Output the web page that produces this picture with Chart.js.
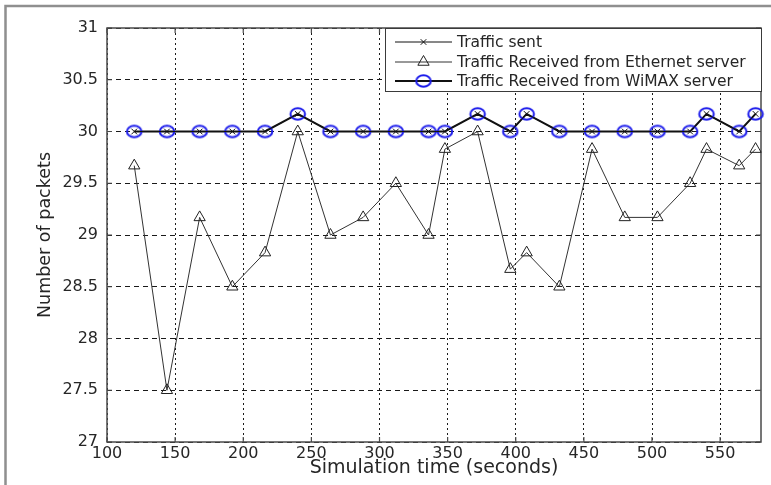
<!DOCTYPE html>
<html>
<head>
<meta charset="utf-8">
<script src="https://cdn.jsdelivr.net/npm/chart.js@4/dist/chart.umd.min.js"></script>
<style>
html,body{margin:0;padding:0;background:#fff;}
canvas{display:block;}
</style>
</head>
<body>
<canvas id="c" width="771" height="485"></canvas>
<script>
// ---- data ----
const timeSec = [120,144,168,192,216,240,264,288,312,336,348,372,396,408,432,456,480,504,528,540,564,576];
const trafficSent = [30,30,30,30,30,30.17,30,30,30,30,30,30.17,30,30.17,30,30,30,30,30,30.17,30,30.17];
const ethernetRecv = [29.67,27.5,29.17,28.5,28.83,30,29,29.17,29.5,29,29.83,30,28.67,28.83,28.5,29.83,29.17,29.17,29.5,29.83,29.67,29.83];
const wimaxRecv = [30,30,30,30,30,30.17,30,30,30,30,30,30.17,30,30.17,30,30,30,30,30,30.17,30,30.17];
const seriesLabels = ['Traffic sent','Traffic Received from Ethernet server','Traffic Received from WiMAX server'];
const xTicks = [100,150,200,250,300,350,400,450,500,550];
const yTicks = [27,27.5,28,28.5,29,29.5,30,30.5,31];
const xRange = [100,580];
const yRange = [27,31];
const xTitle = 'Simulation time (seconds)';
const yTitle = 'Number of packets';

const FONT = 'DejaVu Sans';
const TXT = '#262626';

function ellipseMarker(){
  const c = document.createElement('canvas');
  c.width = 20; c.height = 16;
  const g = c.getContext('2d');
  g.strokeStyle = 'rgb(28,28,235)';
  g.lineWidth = 2;
  g.beginPath();
  g.ellipse(10, 8, 7.3, 5.7, 0, 0, Math.PI*2);
  g.stroke();
  return c;
}
const wimaxMarker = ellipseMarker();

const toPts = arr => arr.map((v,i)=>({x:timeSec[i], y:v}));

const decor = {
  id: 'decor',
  beforeDraw(chart){
    const ctx = chart.ctx;
    ctx.save();
    ctx.fillStyle = '#fff';
    ctx.fillRect(0,0,chart.width,chart.height);
    ctx.strokeStyle = '#8f8f8f';
    ctx.lineWidth = 2.5;
    ctx.beginPath();
    ctx.moveTo(5.5, chart.height);
    ctx.lineTo(5.5, 6);
    ctx.lineTo(chart.width, 6);
    ctx.stroke();
    ctx.restore();
  },
  beforeDatasetsDraw(chart){
    const ctx = chart.ctx, a = chart.chartArea;
    const xs = chart.scales.x, ys = chart.scales.y;
    ctx.save();
    ctx.strokeStyle = '#4a4a4a';
    ctx.lineWidth = 1.5;
    ctx.strokeRect(a.left, a.top, a.right - a.left, a.bottom - a.top);
    ctx.lineWidth = 1.2;
    ctx.beginPath();
    xTicks.forEach(v=>{
      const p = xs.getPixelForValue(v);
      ctx.moveTo(p, a.bottom); ctx.lineTo(p, a.bottom - 5);
      ctx.moveTo(p, a.top); ctx.lineTo(p, a.top + 5);
    });
    yTicks.forEach(v=>{
      const p = ys.getPixelForValue(v);
      ctx.moveTo(a.left, p); ctx.lineTo(a.left + 5, p);
      ctx.moveTo(a.right, p); ctx.lineTo(a.right - 5, p);
    });
    ctx.stroke();
    ctx.restore();
  },
  afterDraw(chart){
    const ctx = chart.ctx, a = chart.chartArea;
    const bx = 385, by = a.top, bw = a.right + 1 - bx, bh = 64;
    ctx.save();
    ctx.fillStyle = '#fff';
    ctx.fillRect(bx, by, bw, bh);
    ctx.strokeStyle = '#3a3a3a';
    ctx.lineWidth = 1;
    ctx.strokeRect(bx + 0.5, by + 0.5, bw - 1, bh - 1);
    const rows = [by + 14, by + 34, by + 53];
    const lx0 = bx + 10, lx1 = bx + 67, mx = (lx0 + lx1) / 2, tx = bx + 72;
    chart.data.datasets.forEach((ds, i)=>{
      const y = rows[i];
      ctx.strokeStyle = ds.borderColor;
      ctx.lineWidth = ds.borderWidth;
      ctx.beginPath(); ctx.moveTo(lx0, y); ctx.lineTo(lx1, y); ctx.stroke();
      ctx.strokeStyle = ds.pointBorderColor;
      ctx.lineWidth = ds.pointBorderWidth;
      if (ds.pointStyle === 'crossRot') {
        const r = ds.pointRadius * 0.7;
        ctx.beginPath();
        ctx.moveTo(mx - r, y - r); ctx.lineTo(mx + r, y + r);
        ctx.moveTo(mx - r, y + r); ctx.lineTo(mx + r, y - r);
        ctx.stroke();
      } else if (ds.pointStyle === 'triangle') {
        const r = ds.pointRadius;
        ctx.beginPath();
        for (let k = 0; k < 3; k++) {
          const ang = k * 2 * Math.PI / 3;
          const px = mx + Math.sin(ang) * r, py = y - Math.cos(ang) * r;
          k ? ctx.lineTo(px, py) : ctx.moveTo(px, py);
        }
        ctx.closePath(); ctx.stroke();
      } else {
        const img = ds.pointStyle;
        ctx.drawImage(img, mx - img.width/2, y - img.height/2);
      }
      ctx.fillStyle = TXT;
      ctx.font = '15.5px "' + FONT + '"';
      ctx.textBaseline = 'middle';
      ctx.textAlign = 'left';
      ctx.fillText(ds.label, tx, y + 1);
    });
    ctx.restore();
  }
};

new Chart(document.getElementById('c'), {
  type: 'line',
  data: {
    datasets: [
      {
        label: seriesLabels[0], data: toPts(trafficSent),
        borderColor: '#111', borderWidth: 1, pointStyle: 'crossRot', pointRadius: 4,
        pointBorderColor: '#111', pointBorderWidth: 1, pointBackgroundColor: 'rgba(0,0,0,0)',
        tension: 0, clip: false
      },
      {
        label: seriesLabels[1], data: toPts(ethernetRecv),
        borderColor: '#333', borderWidth: 1, pointStyle: 'triangle', pointRadius: 6.5,
        pointBorderColor: '#222', pointBorderWidth: 1, pointBackgroundColor: 'rgba(0,0,0,0)',
        tension: 0, clip: false
      },
      {
        label: seriesLabels[2], data: toPts(wimaxRecv),
        borderColor: '#111', borderWidth: 2, pointStyle: wimaxMarker, pointRadius: 7,
        pointBorderColor: 'rgb(28,28,235)', pointBorderWidth: 2, pointBackgroundColor: 'rgba(0,0,0,0)',
        tension: 0, clip: false
      }
    ]
  },
  options: {
    responsive: false,
    animation: false,
    devicePixelRatio: 1,
    events: [],
    layout: { padding: { top: 28, right: 10, left: 0, bottom: 0 } },
    plugins: { legend: { display: false }, tooltip: { enabled: false } },
    scales: {
      x: {
        type: 'linear', bounds: 'data', min: xRange[0], max: xRange[1],
        afterBuildTicks(s){ s.ticks = xTicks.map(v=>({value:v})); },
        afterFit(s){ s.height = 43; },
        grid: { color: '#1a1a1a', lineWidth: 1, drawTicks: false },
        border: { display: false, dash: [2,3] },
        ticks: { padding: 2, color: TXT, font: { family: FONT, size: 16 }, maxRotation: 0, autoSkip: false,
                 callback: v => String(Number(v)) },
        title: { display: true, text: xTitle, color: TXT, font: { family: FONT, size: 19 }, padding: { top: 0, bottom: 6 } }
      },
      y: {
        type: 'linear', bounds: 'data', min: yRange[0], max: yRange[1],
        afterBuildTicks(s){ s.ticks = yTicks.map(v=>({value:v})); },
        afterFit(s){ s.width = 107; },
        grid: { color: '#1a1a1a', lineWidth: 1, drawTicks: false },
        border: { display: false, dash: [5,4] },
        ticks: { padding: 9, color: TXT, font: { family: FONT, size: 16 }, autoSkip: false,
                 callback: v => String(Number(v)) },
        title: { display: true, text: yTitle, color: TXT, font: { family: FONT, size: 17.5 }, padding: { top: 35, bottom: 0 } }
      }
    }
  },
  plugins: [decor]
});
</script>
</body>
</html>
